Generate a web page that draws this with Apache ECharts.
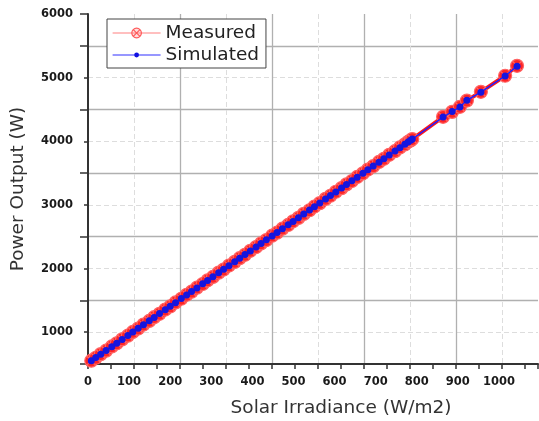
<!DOCTYPE html>
<html><head><meta charset="utf-8">
<script src="https://cdn.jsdelivr.net/npm/echarts@6/dist/echarts.min.js"></script>
<style>html,body{margin:0;padding:0;background:#fff}#c{width:539px;height:421px}</style>
</head><body><div id="c"></div>
<script>
// Solar irradiance (W/m2) of each sample
const irradiance = [8,19,31,44,58,70,83,97,109,122,135,149,161,174,188,200,213,227,240,252,265,279,291,304,318,330,343,357,369,382,395,409,421,434,448,460,473,487,499,512,525,539,551,564,578,590,603,617,629,642,655,669,681,694,708,720,733,747,759,771,779,785,789,864,886,905,922,956,1015,1044];
// Measured power output (W)
const measuredPower = [552,598,655,709,776,825,887,945,1004,1057,1120,1177,1236,1289,1356,1404,1468,1525,1588,1636,1699,1757,1815,1868,1936,1984,2047,2105,2163,2216,2279,2337,2395,2448,2516,2564,2627,2685,2743,2796,2859,2916,2975,3028,3095,3144,3207,3264,3323,3376,3439,3496,3555,3608,3675,3724,3787,3844,3903,3951,3992,4014,4035,4384,4462,4541,4640,4777,5030,5186];
// Simulated power output (W)
const simulatedPower = [550,601,652,712,772,828,884,948,1002,1060,1116,1180,1232,1292,1352,1407,1464,1528,1584,1639,1696,1760,1812,1871,1932,1987,2044,2108,2160,2219,2276,2340,2392,2451,2512,2567,2624,2688,2740,2799,2856,2919,2972,3031,3092,3147,3204,3267,3320,3379,3436,3499,3552,3611,3672,3727,3784,3847,3900,3954,3989,4016,4034,4380,4466,4538,4645,4772,5026,5180];
// Tick labels
const xTickLabels = [0,100,200,300,400,500,600,700,800,900,1000];
const yTickLabels = [1000,2000,3000,4000,5000,6000];

const measuredData = irradiance.map((g, i) => [g, measuredPower[i]]);
const simulatedData = irradiance.map((g, i) => [g, simulatedPower[i]]);

const crossCircle = 'path://M10,5A5,5,0,1,1,0,5A5,5,0,1,1,10,5ZM1.8,1.8L8.2,8.2M8.2,1.8L1.8,8.2';
const tickFont = {fontFamily:'DejaVu Sans', fontWeight:'bold', fontSize:11.5, color:'#1a1a1a'};
const nameFont = {fontFamily:'DejaVu Sans', fontSize:18.5, color:'#333'};

const chart = echarts.init(document.getElementById('c'), null, {renderer:'canvas'});
chart.setOption({
  animation:false,
  backgroundColor:'#fff',
  grid:{left:88, right:1, top:14, bottom:57, containLabel:false, outerBoundsMode:'none'},
  legend:[{
    orient:'vertical', left:107, top:19, padding:[4,10,25,5], itemGap:2,
    itemWidth:48, itemHeight:12, selectedMode:false,
    backgroundColor:'#fff', borderColor:'#444', borderWidth:1, borderRadius:0,
    textStyle:{fontFamily:'DejaVu Sans', fontSize:18.5, color:'#222', lineHeight:20},
    data:[{name:'Measured', lineStyle:{color:'#ff8080', width:1.2},
           itemStyle:{color:'rgba(255,160,160,0.35)', borderColor:'#ff5a5a', borderWidth:1.2}}]
  },{
    orient:'vertical', left:112, top:45, padding:0,
    itemWidth:48, itemHeight:6, selectedMode:false,
    textStyle:{fontFamily:'DejaVu Sans', fontSize:18.5, color:'#222', lineHeight:20},
    data:[{name:'Simulated', lineStyle:{color:'#3030ff', width:1.2}, itemStyle:{color:'#1010e0'}}]
  }],
  xAxis:[{
    type:'value', min:0, max:1095, interval:100, position:'bottom',
    name:'Solar Irradiance (W/m2)', nameLocation:'middle', nameGap:35,
    nameTextStyle:Object.assign({padding:[0,0,0,56]}, nameFont),
    axisLine:{show:true, lineStyle:{color:'#333', width:2}},
    axisTick:{show:false}, splitLine:{show:false},
    axisLabel:Object.assign({margin:12, formatter:v => xTickLabels.includes(v) ? String(v) : ''}, tickFont)
  },{
    type:'value', min:0, max:19.565, interval:1, position:'bottom',
    axisLine:{show:false}, axisLabel:{show:false},
    axisTick:{show:true, length:5, lineStyle:{color:'#333', width:1.5}},
    splitLine:{show:false}
  },{
    type:'value', min:0, max:19.565, interval:2, position:'bottom',
    axisLine:{show:false}, axisLabel:{show:false}, axisTick:{show:false},
    splitLine:{show:true, showMinLine:false, showMaxLine:false, lineStyle:{color:'#dddddd', width:1, type:[5,3]}}
  },{
    type:'value', min:0, max:19.565, interval:4, position:'bottom',
    axisLine:{show:false}, axisLabel:{show:false}, axisTick:{show:false},
    splitLine:{show:true, showMinLine:false, showMaxLine:false, lineStyle:{color:'#b0b0b0', width:1.3}}
  }],
  yAxis:[{
    type:'value', min:500, max:6000, interval:500, position:'left',
    name:'Power Output (W)', nameLocation:'middle', nameGap:60, nameTextStyle:nameFont,
    axisLine:{show:true, lineStyle:{color:'#333', width:2}},
    axisTick:{show:false}, splitLine:{show:false},
    axisLabel:Object.assign({margin:15, formatter:v => yTickLabels.includes(v) ? String(v) : ''}, tickFont)
  },{
    type:'value', min:0, max:11, interval:1, position:'left',
    axisLine:{show:false}, axisLabel:{show:false},
    axisTick:{show:true, length:4, lineStyle:{color:'#333', width:1.5}},
    splitLine:{show:true, showMinLine:false, showMaxLine:false, lineStyle:{color:'#dddddd', width:1, type:[5,3]}}
  },{
    type:'value', min:0, max:11, interval:2, position:'left',
    axisLine:{show:false}, axisLabel:{show:false},
    axisTick:{show:true, length:8, lineStyle:{color:'#333', width:1.5}},
    splitLine:{show:true, showMinLine:false, showMaxLine:false, lineStyle:{color:'#b0b0b0', width:1.3}}
  }],
  series:[{
    name:'Measured', type:'line', xAxisIndex:0, yAxisIndex:0, data:measuredData,
    symbol:crossCircle, symbolSize:13, showAllSymbol:true,
    lineStyle:{color:'#ff1a1a', width:4},
    itemStyle:{color:'#ff2424', borderColor:'#ff6464', borderWidth:1.2},
    emphasis:{disabled:true}, z:2
  },{
    name:'Simulated', type:'line', xAxisIndex:0, yAxisIndex:0, data:simulatedData,
    symbol:'circle', symbolSize:7, showAllSymbol:true,
    lineStyle:{color:'#2020ff', width:1.5},
    itemStyle:{color:'#1515e0'},
    emphasis:{disabled:true}, z:3
  }]
});
</script></body></html>
